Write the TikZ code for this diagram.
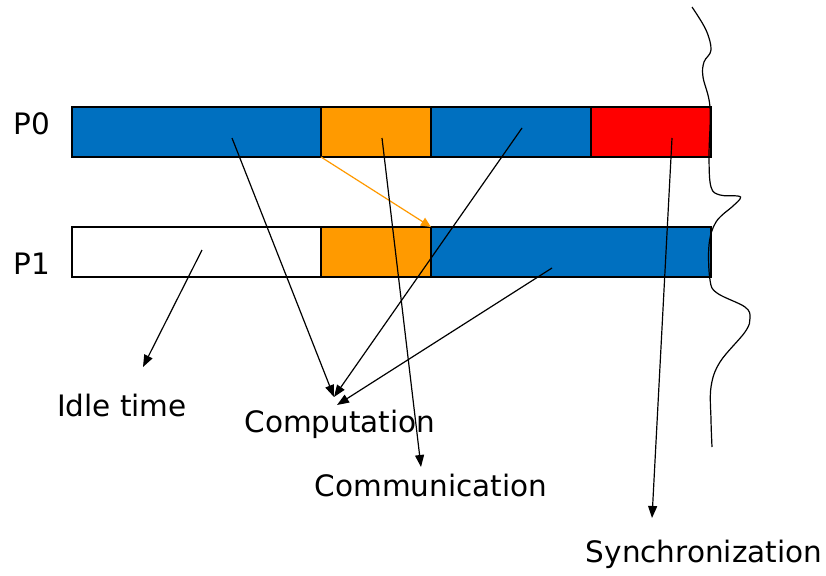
\documentclass[tikz,border=0pt]{standalone}
\usepackage{fontspec}
\setmainfont{DejaVu Sans}
\usetikzlibrary{arrows.meta}
\definecolor{cblue}{HTML}{0070C0}
\definecolor{corange}{HTML}{FF9A00}
\definecolor{cred}{HTML}{FF0000}
\begin{document}
\begin{tikzpicture}[x=1pt,y=-1pt,
  seg/.style={draw=black,line width=1.3pt,inner sep=0pt,outer sep=0pt,anchor=north west,minimum height=50pt},
  lbl/.style={inner sep=0pt,font=\fontsize{29.5}{35}\selectfont},
  ptr/.style={draw=black,line width=1.2pt,-{Triangle[length=12pt,width=9pt]}},
  msg/.style={draw=corange,line width=1.2pt,-{Triangle[length=10pt,width=9pt]}}]
\useasboundingbox[fill=white] (0,0) rectangle (826,575);
% process labels
\node[lbl] (P0) at (32,124) {P0};
\node[lbl] (P1) at (32,264) {P1};
% P0 bar
\node[seg,fill=cblue,minimum width=249pt] (a0) at (72,107) {};
\node[seg,fill=corange,minimum width=110pt] (b0) at (321,107) {};
\node[seg,fill=cblue,minimum width=160pt] (c0) at (431,107) {};
\node[seg,fill=cred,minimum width=120pt] (d0) at (591,107) {};
% P1 bar
\node[seg,fill=white,minimum width=249pt] (a1) at (72,227) {};
\node[seg,fill=corange,minimum width=110pt] (b1) at (321,227) {};
\node[seg,fill=cblue,minimum width=280pt] (c1) at (431,227) {};
% text labels
\node[lbl] (idle) at (122,405) {Idle time};
\node[lbl] (comp) at (340,424) {Computation};
\node[lbl] (comm) at (431,485) {Communication};
\node[lbl] (sync) at (704,554) {Synchronization};
% wavy synchronization line
\draw[line width=1.2pt] plot[smooth,tension=0.6] coordinates {(692,7) (706,30) (711,50) (704,62) (703,77) (710,107) (709,157) (711,187) (720,195) (738,196) (740,199) (733,206) (716,222) (709,245) (710,280) (717,293) (745,307) (750,318) (745,332) (720,362) (711,387) (711,420) (712,447)};
% message arrow
\draw[msg] (b0.south west) -- (c1.north west);
% pointer start and end points
\coordinate (sA0) at (232,138);
\coordinate (sB0) at (382,138);
\coordinate (sC0) at (522,128);
\coordinate (sD0) at (672,138);
\coordinate (sA1) at (202,250);
\coordinate (sC1) at (552,268);
\coordinate (tIdle) at (143,367);
\coordinate (tComp1) at (334,397);
\coordinate (tComp2) at (337,405);
\coordinate (tComm) at (421,467);
\coordinate (tSync) at (652,518);
\draw[ptr] (sA0) -- (tComp1);
\draw[ptr] (sC0) -- (tComp1);
\draw[ptr] (sC1) -- (tComp2);
\draw[ptr] (sB0) -- (tComm);
\draw[ptr] (sD0) -- (tSync);
\draw[ptr] (sA1) -- (tIdle);
\end{tikzpicture}
\end{document}
